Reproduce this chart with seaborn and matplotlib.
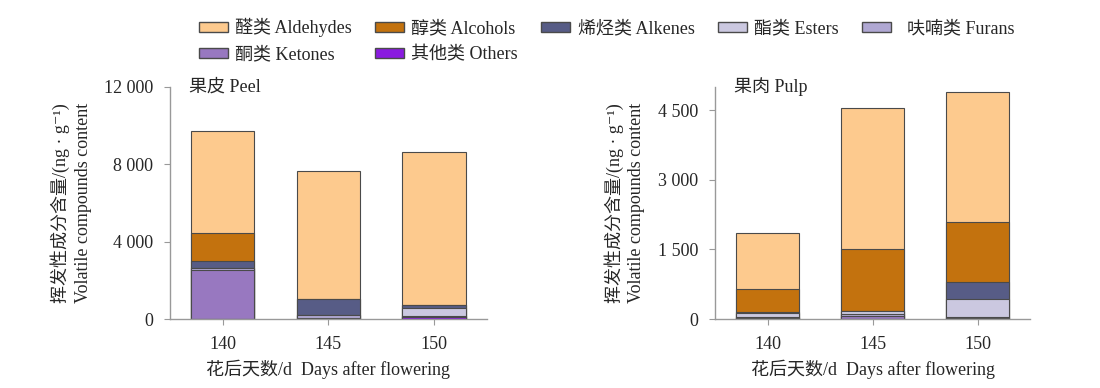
import pandas as pd
import matplotlib.pyplot as plt
import seaborn as sns
from matplotlib.patches import Patch

days = ['140', '145', '150']
classes = ['Others', 'Ketones', 'Furans', 'Esters', 'Alkenes', 'Alcohols', 'Aldehydes']
labels = {
    'Aldehydes': '醛类 Aldehydes', 'Alcohols': '醇类 Alcohols', 'Alkenes': '烯烃类 Alkenes',
    'Esters': '酯类 Esters', 'Furans': '  呋喃类 Furans', 'Ketones': '酮类 Ketones',
    'Others': '其他类 Others',
}
colors = {
    'Aldehydes': '#fdca8e', 'Alcohols': '#c3720e', 'Alkenes': '#575c86',
    'Esters': '#cbc8e0', 'Furans': '#b0a8d3', 'Ketones': '#9878c0',
    'Others': '#8a1be0',
}

# content (ng/g), bottom-up order as in `classes`
peel = {
    'Others': [20, 10, 90],
    'Ketones': [2530, 60, 20],
    'Furans': [100, 130, 40],
    'Esters': [0, 20, 420],
    'Alkenes': [350, 820, 150],
    'Alcohols': [1450, 0, 10],
    'Aldehydes': [5270, 6600, 7900],
}
pulp = {
    'Others': [20, 10, 10],
    'Ketones': [10, 60, 20],
    'Furans': [10, 40, 10],
    'Esters': [90, 60, 390],
    'Alkenes': [20, 10, 370],
    'Alcohols': [500, 1330, 1290],
    'Aldehydes': [1200, 3040, 2800],
}

sns.set_style('white')
plt.rcParams['font.family'] = ['Liberation Serif', 'Noto Sans CJK SC', 'DejaVu Sans']

fig = plt.figure(figsize=(11, 3.88), dpi=100)
ax1 = fig.add_axes([0.1545, 0.1778, 0.2882, 0.598])
ax2 = fig.add_axes([0.65, 0.1778, 0.2864, 0.598])


def stacked(ax, data, ymax, yticks, title):
    df = pd.DataFrame(data, index=days)
    cum = df[classes].cumsum(axis=1)
    # draw tallest cumulative layer first, smaller ones on top
    for c in reversed(classes):
        sns.barplot(x=days, y=cum[c].values, ax=ax, color=colors[c], width=0.6,
                    edgecolor='#4a4a4a', linewidth=0.8, saturation=1)
    ax.set_xlim(-0.5, 2.5)
    ax.set_ylim(0, ymax)
    ax.set_yticks(yticks)
    ax.yaxis.set_major_formatter(plt.FuncFormatter(lambda v, _: f'{v:,.0f}'.replace(',', ' ')))
    ax.tick_params(axis='both', labelsize=13, direction='out', length=4, color='#999999',
                   left=True, bottom=True)
    ax.tick_params(axis='x', pad=8)
    ax.tick_params(axis='y', pad=8)
    for s in ['top', 'right']:
        ax.spines[s].set_visible(False)
    for s in ['left', 'bottom']:
        ax.spines[s].set_color('#999999')
        ax.spines[s].set_linewidth(1.0)
    ax.set_xlabel('花后天数/d  Days after flowering', fontsize=13, labelpad=5)
    ax.set_ylabel('挥发性成分含量/(ng · g⁻¹)\nVolatile compounds content', fontsize=13,
                  labelpad=9, linespacing=1.35)
    ax.text(0.06, 1.0, title, transform=ax.transAxes, fontsize=13, va='center', ha='left')


stacked(ax1, peel, 12000, [0, 4000, 8000, 12000], '果皮 Peel')
stacked(ax2, pulp, 5000, [0, 1500, 3000, 4500], '果肉 Pulp')

order = ['Aldehydes', 'Ketones', 'Alcohols', 'Others', 'Alkenes', 'Esters', 'Furans']
handles = [Patch(facecolor=colors[c], edgecolor='#4a4a4a', linewidth=1.0, label=labels[c])
           for c in order]
fig.legend(handles=handles, ncol=5, loc='upper left', bbox_to_anchor=(0.166, 0.995),
           frameon=False, fontsize=13, handlelength=1.6, handleheight=0.5,
           handletextpad=0.4, columnspacing=1.3, labelspacing=0.5)

fig.savefig('out.png', dpi=100)
